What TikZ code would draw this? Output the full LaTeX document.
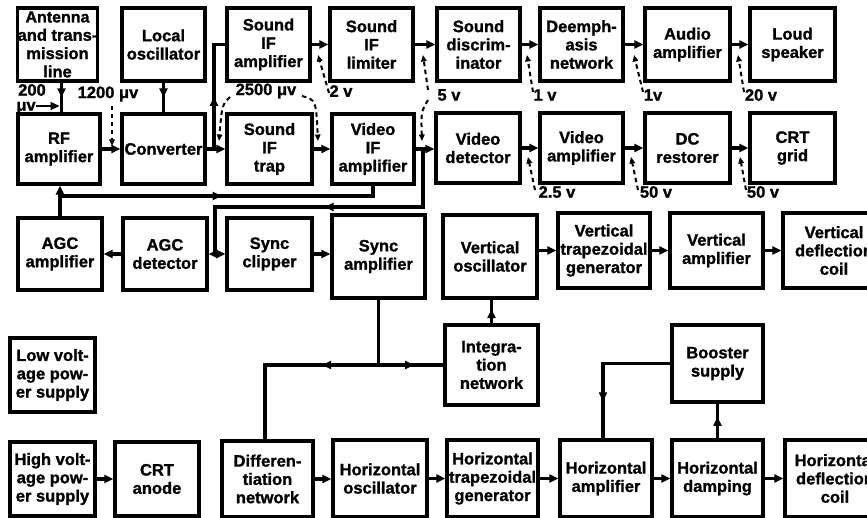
\documentclass[tikz,border=0pt]{standalone}
\usepackage{fontspec}
\setmainfont[BoldFeatures={FakeBold=1.2}]{Liberation Sans}
\usetikzlibrary{arrows.meta,decorations.markings}
\newcommand\mybox[6]{\node[blk,minimum width={#4pt-#2pt},minimum height={#5pt-#3pt}] (#1) at ({(#2+#4)/2},{(#3+#5)/2}) {#6};}
\begin{document}
\begin{tikzpicture}[x=1pt,y=-1pt,
  blk/.style={draw,line width=3.1pt,align=center,inner sep=0pt,font=\bfseries\fontsize{16.5}{18.3}\selectfont},
  lbl/.style={font=\bfseries\fontsize{16.5}{18}\selectfont,inner sep=0pt},
  conn/.style={line width=3.1pt},
  tip/.style={-{Triangle[length=9pt,width=8pt]}},
  midarr/.style={postaction={decorate,decoration={markings,mark=at position #1 with {\arrow{Triangle[length=9pt,width=8pt]}}}}},
  dsh/.style={line width=2pt,dash pattern=on 4.5pt off 3.5pt,-{Triangle[length=6.5pt,width=5.5pt]}},
]
\clip (0,0) rectangle (867,518);
\fill[white] (0,0) rectangle (867,518);
% row 1
\mybox{ant}{18}{8}{97}{81}{\fontsize{16}{17.5}\selectfont Antenna\\and trans-\\mission\\line}
\mybox{lo}{122}{8}{205}{81}{Local\\oscillator}
\mybox{sifa}{227}{8}{310}{81}{Sound\\IF\\amplifier}
\mybox{sifl}{330}{8}{413}{81}{Sound\\IF\\limiter}
\mybox{sdisc}{437}{8}{520}{81}{Sound\\discrim-\\inator}
\mybox{deemph}{540}{8}{623}{81}{Deemph-\\asis\\network}
\mybox{audio}{645}{8}{730}{81}{Audio\\amplifier}
\mybox{loud}{750}{8}{835}{81}{Loud\\speaker}
% row 2
\mybox{rf}{18}{114}{100}{184}{RF\\amplifier}
\mybox{conv}{122}{114}{205}{184}{Converter}
\mybox{trap}{227}{114}{312}{184}{Sound\\IF\\trap}
\mybox{vif}{332}{114}{414}{184}{Video\\IF\\amplifier}
\mybox{vdet}{436}{113}{520}{183}{Video\\detector}
\mybox{vamp}{540}{113}{623}{183}{Video\\amplifier}
\mybox{dcr}{645}{113}{730}{183}{DC\\restorer}
\mybox{grid}{750}{113}{835}{183}{CRT\\grid}
% row 3
\mybox{agca}{18}{218}{102}{290}{AGC\\amplifier}
\mybox{agcd}{123}{218}{207}{290}{AGC\\detector}
\mybox{clip}{227}{218}{312}{290}{Sync\\clipper}
\mybox{synca}{332}{215}{425}{298}{Sync\\amplifier}
\mybox{vosc}{443}{215}{537}{298}{Vertical\\oscillator}
\mybox{vtrap}{558}{213}{650}{288}{Vertical\\trapezoidal\\generator}
\mybox{vampl}{670}{213}{763}{288}{Vertical\\amplifier}
\mybox{vcoil}{783}{213}{885}{288}{Vertical\\deflection\\coil}
% row 4
\mybox{lvps}{10}{338}{95}{412}{Low volt-\\age pow-\\er supply}
\mybox{integ}{445}{325}{538}{405}{Integra-\\tion\\network}
\mybox{boost}{672}{325}{763}{402}{Booster\\supply}
% row 5
\mybox{hvps}{10}{442}{95}{516}{High volt-\\age pow-\\er supply}
\mybox{anode}{115}{442}{199}{516}{CRT\\anode}
\mybox{diff}{222}{441}{313}{517}{Differen-\\tiation\\network}
\mybox{hosc}{333}{440}{427}{517}{Horizontal\\oscillator}
\mybox{htrap}{447}{440}{538}{517}{Horizontal\\trapezoidal\\generator}
\mybox{hamp}{560}{440}{652}{517}{Horizontal\\amplifier}
\mybox{hdamp}{672}{440}{763}{517}{Horizontal\\damping}
\mybox{hcoil}{785}{440}{885}{517}{Horizontal\\deflection\\coil}

% labels
\node[lbl] (l200) at (32,90) {200};
\node[lbl] (lmuv) at (26,108) {μv};
\node[lbl] (l1200) at (108,94) {1200 μv};
\node[lbl] (l2500) at (266,91) {2500 μv};
\node[lbl] (l2v) at (341,91) {2 v};
\node[lbl] (l5v) at (449,95) {5 v};
\node[lbl] (l1va) at (545,95) {1 v};
\node[lbl] (l1vb) at (653,95) {1v};
\node[lbl] (l20v) at (761,95) {20 v};
\node[lbl] (l25v) at (557,192) {2.5 v};
\node[lbl] (l50a) at (656,192) {50 v};
\node[lbl] (l50b) at (763,192) {50 v};

% coordinates
\coordinate (a200) at (59.5,106);
\coordinate (j1) at (214,149);
\coordinate (agcj) at (60,196);
\coordinate (vj) at (423,149);
\coordinate (vj2) at (423,207);
\coordinate (vj3) at (215,207);
\coordinate (sj) at (215,254);
\coordinate (hj) at (378.5,365);
\coordinate (hl) at (265,365);

% top chain
\draw[conn,midarr=0.5] ([xshift=4]ant.south) -- ([xshift=4]ant.south |- rf.north);
\draw[line width=1.8pt,tip] (lmuv.east |- a200) -- (a200);
\draw[conn,midarr=0.5] (lo.south) -- (conv.north);
\draw[conn,tip] (rf.east) -- (conv.west);
\draw[conn,tip] (conv.east) -- (trap.west);
\draw[conn,midarr=0.45] (j1) |- (sifa.west);
\draw[conn,tip] (sifa.east) -- (sifl.west);
\draw[conn,tip] (sifl.east) -- (sdisc.west);
\draw[conn,tip] (sdisc.east) -- (deemph.west);
\draw[conn,tip] (deemph.east) -- (audio.west);
\draw[conn,tip] (audio.east) -- (loud.west);
% second chain
\draw[conn,tip] (trap.east) -- (vif.west);
\draw[conn,tip] (vif.east) -- (vif.east -| vdet.west);
\draw[conn,tip] (vdet.east) -- (vamp.west);
\draw[conn,tip] (vamp.east) -- (dcr.west);
\draw[conn,tip] (dcr.east) -- (grid.west);
% AGC
\draw[conn,tip] (agca.north) -- (agca.north |- rf.south);
\draw[conn,midarr=0.5] (agcj) -| (vif.south);
\draw[conn,midarr=0.5] (vj) -- (vj2) -- (vj3) -- (sj);
\draw[conn,tip] (sj) -- (agcd.east);
\draw[conn,tip] (sj) -- (clip.west);
\draw[conn,tip] (agcd.west) -- (agca.east);
\draw[conn,tip] (clip.east) -- (clip.east -| synca.west);
% sync
\draw[conn] (synca.south) -- (hj);
\draw[conn,midarr=0.3] (hj) -- (hl) -- (hl |- diff.north);
\draw[conn,midarr=0.55] (hj) -- (integ.west);
\draw[conn,midarr=0.6] (integ.north) -- (integ.north |- vosc.south);
\draw[conn,tip] (vosc.east |- vtrap.west) -- (vtrap.west);
\draw[conn,tip] (vtrap.east) -- (vampl.west);
\draw[conn,tip] (vampl.east) -- (vcoil.west);
% bottom
\draw[conn,tip] (hvps.east) -- (anode.west);
\draw[conn,tip] (diff.east) -- (diff.east -| hosc.west);
\draw[conn,tip] (hosc.east) -- (htrap.west);
\draw[conn,tip] (htrap.east) -- (hamp.west);
\draw[conn,tip] (hamp.east) -- (hdamp.west);
\draw[conn,tip] (hdamp.east) -- (hcoil.west);
\draw[conn,midarr=0.62] (hdamp.north) -- (hdamp.north |- boost.south);
\draw[conn,midarr=0.74] (boost.west) -| ([xshift=-3]hamp.north);

% dashed level arrows
\draw[dsh] (112,106) -- (112,146);
\draw[dsh] (230,97) .. controls (222,105) .. (219,141);
\draw[dsh] (302,96) .. controls (316,100) .. (318,141);
\draw[dsh] (329,93) -- (318,55);
\draw[dsh] (428,90) -- (423,55);
\draw[dsh] (428,100) .. controls (421,112) .. (422,141);
\draw[dsh] (533,92) -- (527,55);
\draw[dsh] (643,92) -- (634,55);
\draw[dsh] (744,92) -- (738,55);
\draw[dsh] (535,190) -- (528,157);
\draw[dsh] (638,190) -- (631,157);
\draw[dsh] (746,190) -- (740,157);
\end{tikzpicture}
\end{document}
